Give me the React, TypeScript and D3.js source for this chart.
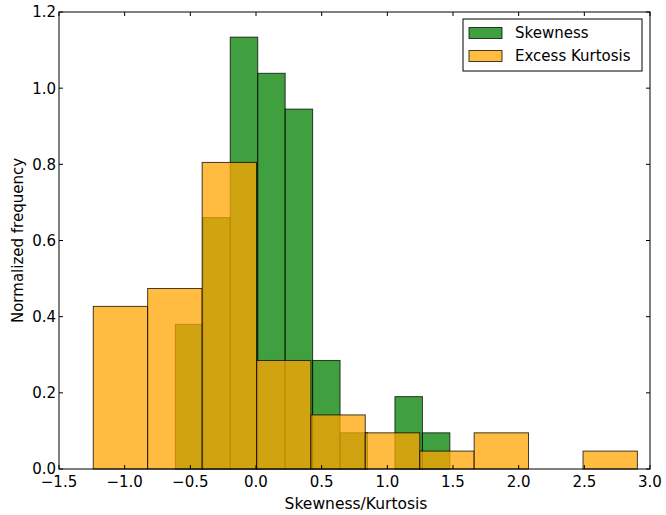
import React from "react";
import * as d3 from "d3";

// Skewness histogram (green), bin edges and normalized heights
const skewEdges = [-0.614, -0.405, -0.196, 0.013, 0.222, 0.431, 0.64, 0.849, 1.058, 1.267, 1.476];
const skewHeights = [0.38, 0.66, 1.134, 1.039, 0.945, 0.285, 0.095, 0, 0.19, 0.095];

// Excess kurtosis histogram (orange)
const kurtEdges = [-1.239, -0.825, -0.41, 0.004, 0.418, 0.832, 1.247, 1.661, 2.075, 2.49, 2.904];
const kurtHeights = [0.427, 0.474, 0.805, 0.285, 0.142, 0.095, 0.047, 0.095, 0, 0.047];

const xTicks = [-1.5, -1.0, -0.5, 0.0, 0.5, 1.0, 1.5, 2.0, 2.5, 3.0];
const yTicks = [0.0, 0.2, 0.4, 0.6, 0.8, 1.0, 1.2];

const series = [
  { name: "Skewness", edges: skewEdges, heights: skewHeights, color: "#008000" },
  { name: "Excess Kurtosis", edges: kurtEdges, heights: kurtHeights, color: "#FFA500" },
];

const W = 666, H = 515;
const L = 59, R = 650, T = 12, B = 469;
const font = "DejaVu Sans, sans-serif";

function fmt(v: number) {
  const s = v.toFixed(1);
  return s.startsWith("-") ? "\u2212" + s.slice(1) : s;
}

export default function App() {
  const x = d3.scaleLinear().domain([-1.5, 3.0]).range([L, R]);
  const y = d3.scaleLinear().domain([0, 1.2]).range([B, T]);
  return (
    <svg width={W} height={H} style={{ position: "absolute", left: 0, top: 0, background: "#fff" }}>
      {series.map((s) => (
        <g key={s.name}>
          {s.heights.map((h, i) =>
            h > 0 ? (
              <rect
                key={i}
                x={x(s.edges[i])}
                y={y(h)}
                width={x(s.edges[i + 1]) - x(s.edges[i])}
                height={y(0) - y(h)}
                fill={s.color}
                fillOpacity={0.75}
                stroke="#000"
                strokeOpacity={0.75}
                strokeWidth={1}
              />
            ) : null
          )}
        </g>
      ))}
      {/* frame */}
      <rect x={L} y={T} width={R - L} height={B - T} fill="none" stroke="#000" strokeWidth={1} />
      {xTicks.map((t) => (
        <g key={"x" + t}>
          <line x1={x(t)} x2={x(t)} y1={B} y2={B - 4} stroke="#000" />
          <line x1={x(t)} x2={x(t)} y1={T} y2={T + 4} stroke="#000" />
          <text x={x(t)} y={487} textAnchor="middle" fontFamily={font} fontSize={15} fill="#000">
            {fmt(t)}
          </text>
        </g>
      ))}
      {yTicks.map((t) => (
        <g key={"y" + t}>
          <line x1={L} x2={L + 4} y1={y(t)} y2={y(t)} stroke="#000" />
          <line x1={R} x2={R - 4} y1={y(t)} y2={y(t)} stroke="#000" />
          <text x={L - 3} y={y(t)} dy="0.36em" textAnchor="end" fontFamily={font} fontSize={15} fill="#000">
            {fmt(t)}
          </text>
        </g>
      ))}
      <text x={356} y={509} textAnchor="middle" fontFamily={font} fontSize={15.5} fill="#000">
        Skewness/Kurtosis
      </text>
      <text
        transform={`translate(23,${(T + B) / 2}) rotate(-90)`}
        textAnchor="middle"
        fontFamily={font}
        fontSize={15}
        fill="#000"
      >
        Normalized frequency
      </text>
      {/* legend */}
      <rect x={463} y={19} width={179} height={52} fill="#fff" stroke="#000" strokeWidth={1} />
      {series.map((s, i) => (
        <g key={"lg" + s.name}>
          <rect
            x={469}
            y={27.5 + i * 23}
            width={33}
            height={11}
            fill={s.color}
            fillOpacity={0.75}
            stroke="#000"
            strokeOpacity={0.75}
          />
          <text x={515} y={33 + i * 23} dy="0.36em" fontFamily={font} fontSize={15} fill="#000">
            {s.name}
          </text>
        </g>
      ))}
    </svg>
  );
}
